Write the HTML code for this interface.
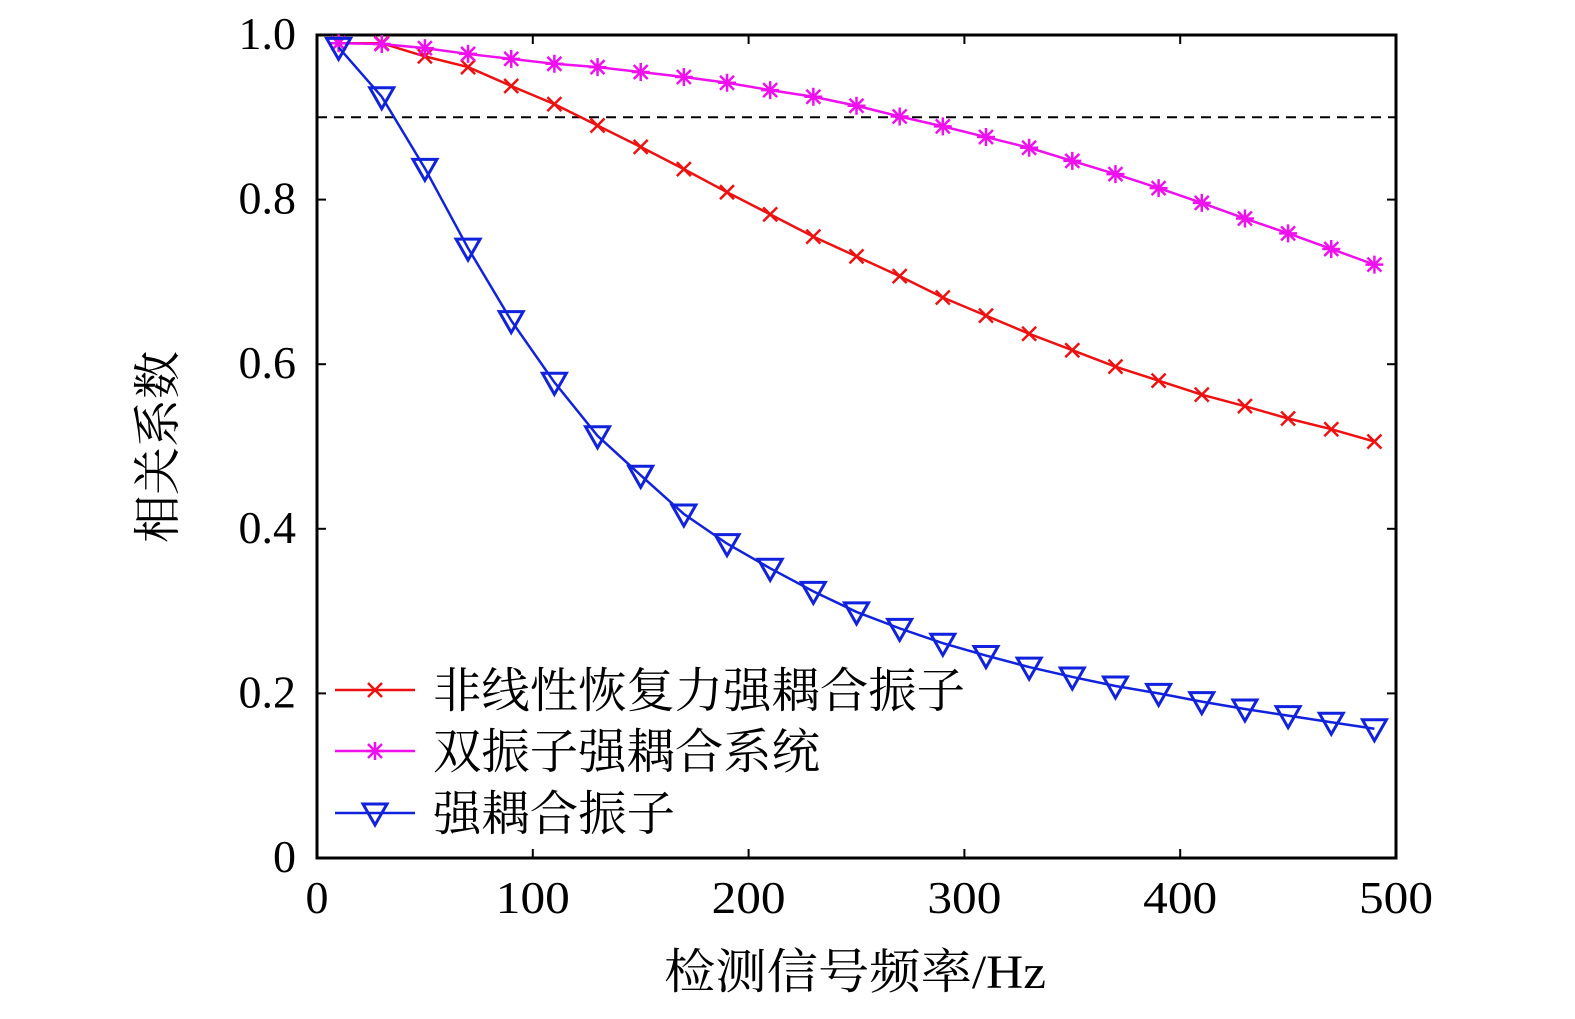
<!DOCTYPE html>
<html><head><meta charset="utf-8"><style>
body{margin:0;background:#fff}
text{font-family:"Liberation Serif","Noto Serif CJK SC",serif}
</style></head><body>
<svg id="chart" width="1575" height="1014" xmlns="http://www.w3.org/2000/svg"></svg>
<script>
const xs=[10,30,50,70,90,110,130,150,170,190,210,230,250,270,290,310,330,350,370,390,410,430,450,470,490];
const redVals=[0.99,0.99,0.974,0.961,0.938,0.916,0.890,0.864,0.837,0.809,0.782,0.755,0.731,0.707,0.681,0.659,0.637,0.617,0.597,0.580,0.563,0.549,0.534,0.521,0.506];
const magVals=[0.99,0.989,0.984,0.977,0.971,0.965,0.961,0.955,0.949,0.942,0.933,0.925,0.914,0.901,0.889,0.876,0.863,0.847,0.831,0.814,0.796,0.777,0.759,0.740,0.721];
const blueVals=[0.985,0.925,0.838,0.741,0.653,0.578,0.513,0.465,0.418,0.382,0.352,0.324,0.299,0.279,0.261,0.246,0.232,0.220,0.209,0.200,0.190,0.181,0.173,0.165,0.157];
const xTicks=[0,100,200,300,400,500];
const yTicks=[0,0.2,0.4,0.6,0.8,1.0];
const yTickLabels=["0","0.2","0.4","0.6","0.8","1.0"];
const threshold=0.9;
const L=317,R=1396,T=35,B=858;
const X=v=>L+(R-L)*v/500, Y=v=>B-(B-T)*v;
const svg=document.getElementById('chart');
const NS="http://www.w3.org/2000/svg";
function el(tag,attrs,parent){const e=document.createElementNS(NS,tag);for(const k in attrs)e.setAttribute(k,attrs[k]);(parent||svg).appendChild(e);return e;}
let e;
e=el('rect',{x:L,y:T,width:R-L,height:B-T,fill:'none',stroke:'#000','stroke-width':3});


xTicks.forEach(t=>{
 e=el('line',{x1:X(t),x2:X(t),y1:B,y2:B-9,stroke:'#000','stroke-width':2});
 
 
 e=el('line',{x1:X(t),x2:X(t),y1:T,y2:T+9,stroke:'#000','stroke-width':2});
 
 
 e=el('text',{x:X(t),y:913,'font-size':46,'text-anchor':'middle',textLength:t===0?23:(t<100?46:74),lengthAdjust:'spacingAndGlyphs'});e.textContent=t;
 
 
});
yTicks.forEach((t,i)=>{
 e=el('line',{x1:L,x2:L+9,y1:Y(t),y2:Y(t),stroke:'#000','stroke-width':2});
 
 
 e=el('line',{x1:R,x2:R-9,y1:Y(t),y2:Y(t),stroke:'#000','stroke-width':2});
 
 
 e=el('text',{x:296,y:Y(t)+14,'font-size':46,'text-anchor':'end'});e.textContent=yTickLabels[i];
 
 
});
e=el('line',{x1:L,x2:R,y1:Y(threshold),y2:Y(threshold),stroke:'#000','stroke-width':2,'stroke-dasharray':'10,7'});


function marker(type,cx,cy,color,g){
 if(type==='x'){el('path',{d:`M${cx-7},${cy-7}L${cx+7},${cy+7}M${cx-7},${cy+7}L${cx+7},${cy-7}`,stroke:color,'stroke-width':2.5,fill:'none'},g);}
 else if(type==='star'){el('path',{d:`M${cx-9},${cy}L${cx+9},${cy}M${cx},${cy-9}L${cx},${cy+9}M${cx-7},${cy-7}L${cx+7},${cy+7}M${cx-7},${cy+7}L${cx+7},${cy-7}`,stroke:color,'stroke-width':2.5,fill:'none'},g);}
 else {el('path',{d:`M${cx-12},${cy-9}L${cx+12},${cy-9}L${cx},${cy+12}Z`,stroke:color,'stroke-width':3,fill:'none'},g);}
}
function series(vals,color,type,name){
 const g=el('g',{});
 
 
 el('polyline',{points:vals.map((v,i)=>X(xs[i])+','+Y(v)).join(' '),fill:'none',stroke:color,'stroke-width':2.5},g);
 vals.forEach((v,i)=>marker(type,X(xs[i]),Y(v),color,g));
}
series(redVals,'#ee1111','x','series-nonlinear-oscillator');
series(magVals,'#ee11ee','star','series-dual-oscillator');
series(blueVals,'#1122dd','tri','series-strong-coupled-oscillator');
const leg=[["非线性恢复力强耦合振子",'#ee1111','x',690,532],["双振子强耦合系统",'#ee11ee','star',751,387],["强耦合振子",'#1122dd','tri',813,242]];
leg.forEach(l=>{
 const g=el('g',{});
 
 
 el('line',{x1:335,x2:415,y1:l[3],y2:l[3],stroke:l[1],'stroke-width':2.5},g);
 marker(l[2],375,l[3],l[1],g);
 const t=el('text',{x:433,y:l[3]+17,'font-size':48,textLength:l[4],lengthAdjust:'spacingAndGlyphs'},g);t.textContent=l[0];
});
e=el('text',{x:855,y:988,'font-size':48,'text-anchor':'middle',textLength:382,lengthAdjust:'spacingAndGlyphs'});e.textContent="检测信号频率/Hz";


e=el('text',{x:0,y:0,'font-size':48,'text-anchor':'middle',transform:'translate(174,447) rotate(-90)'});e.textContent="相关系数";


</script>
</body></html>
